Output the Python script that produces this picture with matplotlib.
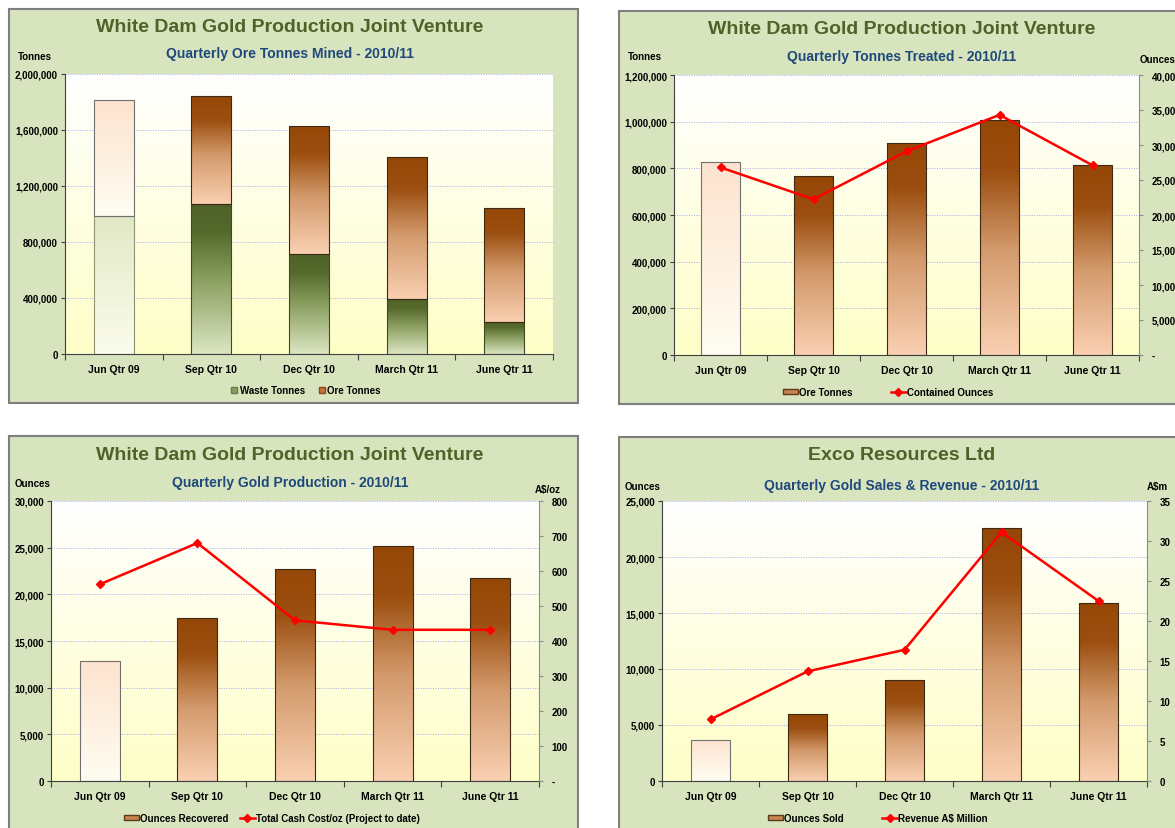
import matplotlib
matplotlib.use('Agg')
import matplotlib.pyplot as plt
import numpy as np
from matplotlib.colors import LinearSegmentedColormap
from matplotlib.patches import Rectangle, Patch
from matplotlib.lines import Line2D
from matplotlib.ticker import FuncFormatter, MultipleLocator

plt.rcParams['font.family'] = ['Liberation Sans', 'DejaVu Sans']
plt.rcParams['font.weight'] = 'bold'

# ---- data ----
quarters = ['Jun Qtr 09', 'Sep Qtr 10', 'Dec Qtr 10', 'March Qtr 11', 'June Qtr 11']

waste_tonnes = [983000, 1071000, 714000, 393000, 231000]
ore_mined = [831000, 769000, 912000, 1012000, 814000]

ore_treated = [827000, 767000, 910000, 1007000, 814000]
contained_oz = [26800, 22250, 29100, 34300, 27100]

oz_recovered = [12870, 17450, 22740, 25210, 21740]
cash_cost = [562, 680, 459, 432, 432]

oz_sold = [3700, 5960, 9030, 22560, 15910]
revenue = [7.7, 13.7, 16.4, 31.1, 22.5]

W, H = 1175, 829

# colour ramps (bottom -> top)
brown = LinearSegmentedColormap.from_list('brown', [(0, '#FAD0B2'), (0.45, '#D39A6C'), (0.78, '#9C4F10'), (1, '#944706')])
pale = LinearSegmentedColormap.from_list('pale', ['#FFFDF2', '#FDE3CF'])
green = LinearSegmentedColormap.from_list('green', [(0, '#DCE6C2'), (0.5, '#8A9E60'), (0.82, '#55692C'), (1, '#4F6228')])
pale_green = LinearSegmentedColormap.from_list('pgreen', ['#FBFCEC', '#E2E9C6'])
bg = LinearSegmentedColormap.from_list('bg', [(0, '#FFFFC8'), (0.5, '#FEFEE2'), (1, '#FFFFFF')])
grad = np.linspace(0, 1, 256).reshape(-1, 1)


def fx(x):
    return x / W


def fy(y):
    return 1 - y / H


def axrect(l, t, r, b):
    return [fx(l), fy(b), (r - l) / W, (b - t) / H]


def fill_gradient(ax, bars, cmaps):
    for bar, cm in zip(bars, cmaps):
        x, y = bar.get_xy()
        w, h = bar.get_width(), bar.get_height()
        im = ax.imshow(grad, cmap=cm, aspect='auto', origin='lower',
                       extent=[x, x + w, y, y + h], zorder=bar.get_zorder() - 0.1)
        im.set_clip_path(bar)
        bar.set_facecolor('none')


def base_axes(rect, ymax, ystep):
    ax = fig.add_axes(rect)
    ax.imshow(grad, cmap=bg, aspect='auto', origin='lower', extent=[0, 1, 0, 1],
              transform=ax.transAxes, zorder=-5)
    ax.set_axisbelow(True)
    ax.yaxis.grid(True, color='#A8A8EC', linestyle=(0, (1, 1.5)), lw=0.7)
    for s in ['top', 'right']:
        ax.spines[s].set_visible(False)
    for s in ['left', 'bottom']:
        ax.spines[s].set_color('#404040')
    n = len(quarters)
    ax.set_xticks(np.arange(n + 1) - 0.5)
    ax.set_xticklabels([])
    ax.set_xticks(np.arange(n), minor=True)
    ax.set_xticklabels(quarters, minor=True, fontsize=7.5, fontweight='bold')
    ax.tick_params(axis='x', which='major', direction='out', length=4, color='#404040')
    ax.tick_params(axis='x', which='minor', length=0, pad=7)
    ax.yaxis.set_major_locator(MultipleLocator(ystep))
    ax.yaxis.set_major_formatter(FuncFormatter(lambda v, p: f'{v:,.0f}'))
    ax.tick_params(axis='y', direction='out', length=3, color='#404040', labelsize=7, pad=2)
    return ax


def right_axis(ax, ymax, ystep, dash_zero=True):
    ax2 = ax.twinx()
    for s in ['top', 'left', 'bottom']:
        ax2.spines[s].set_visible(False)
    ax2.spines['right'].set_color('#8C8C8C')
    ax2.set_ylim(0, ymax)
    ax2.yaxis.set_major_locator(MultipleLocator(ystep))
    if dash_zero:
        ax2.yaxis.set_major_formatter(FuncFormatter(lambda v, p: '-' if v == 0 else f'{v:,.0f}'))
    else:
        ax2.yaxis.set_major_formatter(FuncFormatter(lambda v, p: f'{v:,.0f}'))
    ax2.tick_params(axis='y', direction='out', length=3, color='#8C8C8C', labelsize=7, pad=6)
    return ax2


def panel_frame(l, t, r, b):
    fig.add_artist(Rectangle((fx(l), fy(b)), (r - l) / W, (b - t) / H, transform=fig.transFigure,
                             facecolor='#D7E4BD', edgecolor='#7F7F7F', lw=1.5, zorder=-10))


def titles(cx, ty, title, sy, sub):
    fig.text(fx(cx), fy(ty), title, ha='center', va='center', fontsize=14, color='#4F6228')
    fig.text(fx(cx), fy(sy), sub, ha='center', va='center', fontsize=10, color='#1F497D')


fig = plt.figure(figsize=(W / 100, H / 100), dpi=100, facecolor='white')
x = np.arange(len(quarters))
width = 0.41
line_kw = dict(color='#FF0000', lw=1.8, marker='D', ms=4.5, zorder=5)
leg_kw = dict(loc='center', frameon=False, ncol=2, prop={'size': 7, 'weight': 'bold'},
              handletextpad=0.1)

# ---------- panel 1: ore mined (stacked) ----------
panel_frame(9, 10, 578, 404)
titles(290, 28, 'White Dam Gold Production Joint Venture', 54, 'Quarterly Ore Tonnes Mined - 2010/11')
ax1 = base_axes(axrect(65, 75, 553, 355), 2000000, 400000)
edge_w = ['#8C9470'] + ['#3E4A20'] * (len(quarters) - 1)
edge_o = ['#707070'] + ['#3D2A14'] * (len(quarters) - 1)
b_w = ax1.bar(x, waste_tonnes, width, edgecolor=edge_w, lw=0.8, zorder=2)
b_o = ax1.bar(x, ore_mined, width, bottom=waste_tonnes, edgecolor=edge_o, lw=0.8, zorder=2)
fill_gradient(ax1, b_w, [pale_green] + [green] * (len(quarters) - 1))
fill_gradient(ax1, b_o, [pale] + [brown] * (len(quarters) - 1))
ax1.set_xlim(-0.5, len(quarters) - 0.5)
ax1.set_ylim(0, 2000000)
fig.text(fx(35), fy(57), 'Tonnes', ha='center', va='center', fontsize=7)
fig.legend([Line2D([], [], ls='none', marker='s', ms=4.5, mfc='#8A9E60', mec='#6B7A48'),
            Line2D([], [], ls='none', marker='s', ms=4.5, mfc='#C8703A', mec='#8A4A20')],
           ['Waste Tonnes', 'Ore Tonnes'], bbox_to_anchor=(fx(305), fy(391)),
           columnspacing=1.2, handlelength=1, **leg_kw)

# ---------- panel 2: tonnes treated ----------
panel_frame(619, 12, 1190, 405)
titles(902, 30, 'White Dam Gold Production Joint Venture', 57, 'Quarterly Tonnes Treated - 2010/11')
ax2 = base_axes(axrect(674, 76, 1139, 356), 1200000, 200000)
b2 = ax2.bar(x, ore_treated, width, edgecolor=edge_o, lw=0.8, zorder=2)
fill_gradient(ax2, b2, [pale] + [brown] * (len(quarters) - 1))
ax2.set_xlim(-0.5, len(quarters) - 0.5)
ax2.set_ylim(0, 1200000)
ax2r = right_axis(ax2, 40000, 5000)
ax2r.plot(x, contained_oz, **line_kw)
fig.text(fx(645), fy(57), 'Tonnes', ha='center', va='center', fontsize=7)
fig.text(fx(1140), fy(60), 'Ounces', ha='left', va='center', fontsize=7)
bar_h = Patch(facecolor='#C8844E', edgecolor='#5A3A1A')
line_h = Line2D([], [], **{k: v for k, v in line_kw.items() if k != 'zorder'})
fig.legend([bar_h, line_h], ['Ore Tonnes', 'Contained Ounces'], bbox_to_anchor=(fx(888), fy(393)),
           columnspacing=4, handlelength=1.5, handleheight=0.5, **leg_kw)

# ---------- panel 3: gold production ----------
panel_frame(9, 437, 578, 840)
titles(290, 456, 'White Dam Gold Production Joint Venture', 483, 'Quarterly Gold Production - 2010/11')
ax3 = base_axes(axrect(51, 502, 539, 782), 30000, 5000)
b3 = ax3.bar(x, oz_recovered, width, edgecolor=edge_o, lw=0.8, zorder=2)
fill_gradient(ax3, b3, [pale] + [brown] * (len(quarters) - 1))
ax3.set_xlim(-0.5, len(quarters) - 0.5)
ax3.set_ylim(0, 30000)
ax3r = right_axis(ax3, 800, 100)
ax3r.plot(x, cash_cost, **line_kw)
fig.text(fx(33), fy(484), 'Ounces', ha='center', va='center', fontsize=7)
fig.text(fx(548), fy(490), 'A$/oz', ha='center', va='center', fontsize=7)
fig.legend([bar_h, line_h], ['Ounces Recovered', 'Total Cash Cost/oz (Project to date)'],
           bbox_to_anchor=(fx(272), fy(819)), columnspacing=1.2, handlelength=1.5,
           handleheight=0.5, **leg_kw)

# ---------- panel 4: gold sales & revenue ----------
panel_frame(619, 438, 1190, 840)
titles(902, 456, 'Exco Resources Ltd', 486, 'Quarterly Gold Sales & Revenue - 2010/11')
ax4 = base_axes(axrect(662, 502, 1147, 782), 25000, 5000)
b4 = ax4.bar(x, oz_sold, width, edgecolor=edge_o, lw=0.8, zorder=2)
fill_gradient(ax4, b4, [pale] + [brown] * (len(quarters) - 1))
ax4.set_xlim(-0.5, len(quarters) - 0.5)
ax4.set_ylim(0, 25000)
ax4r = right_axis(ax4, 35, 5, dash_zero=False)
ax4r.plot(x, revenue, **line_kw)
fig.text(fx(643), fy(487), 'Ounces', ha='center', va='center', fontsize=7)
fig.text(fx(1157), fy(487), 'A$m', ha='center', va='center', fontsize=7)
fig.legend([bar_h, line_h], ['Ounces Sold', 'Revenue A$ Million'], bbox_to_anchor=(fx(878), fy(819)),
           columnspacing=4, handlelength=1.5, handleheight=0.5, **leg_kw)

fig.savefig('out.png', dpi=100, facecolor='white')
